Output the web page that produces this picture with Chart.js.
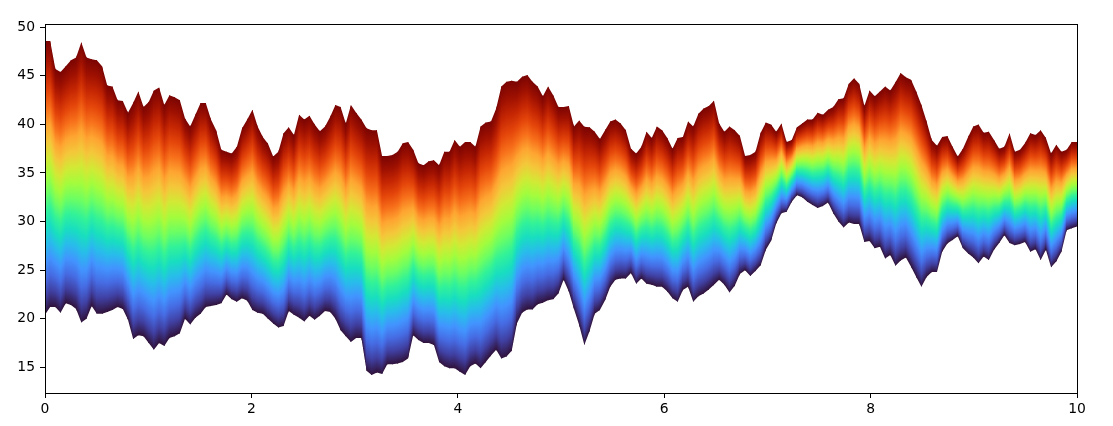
<!DOCTYPE html>
<html>
<head>
<meta charset="utf-8">
<script src="https://cdn.jsdelivr.net/npm/chart.js@4/dist/chart.umd.min.js"></script>
<style>
  html, body { margin: 0; padding: 0; background: #fff; }
  #wrap { width: 1113px; height: 426px; }
</style>
</head>
<body>
<div id="wrap"><canvas id="chartBand" width="1113" height="426"></canvas></div>
<script>
/* =========================
  Data (200 samples, x from 0 to 10)
========================= */
const upper = [
  48.6, 48.6, 45.7, 45.4, 46.0, 46.6, 46.9, 48.45, 46.9, 46.7,
  46.6, 46.0, 44.0, 43.9, 42.5, 42.4, 41.2, 42.2, 43.4, 41.8,
  42.3, 43.5, 43.8, 42.0, 43.0, 42.8, 42.5, 40.6, 39.8, 41.0,
  42.2, 42.2, 40.5, 39.4, 37.4, 37.2, 37.0, 37.7, 39.6, 40.5,
  41.5, 39.8, 38.7, 38.0, 36.7, 37.2, 39.1, 39.7, 38.9, 41.0,
  40.5, 40.9, 40.0, 39.3, 39.8, 40.8, 42.0, 41.8, 40.1, 42.0,
  41.2, 40.5, 39.6, 39.4, 39.4, 36.75, 36.75, 36.85, 37.2, 38.05,
  38.2, 37.4, 36.0, 35.8, 36.2, 36.3, 35.8, 37.2, 37.2, 38.4,
  37.7, 38.2, 38.2, 37.7, 39.8, 40.2, 40.3, 41.65, 43.9, 44.4,
  44.5, 44.4, 44.9, 45.1, 44.4, 43.9, 42.9, 43.9, 43.0, 41.8,
  41.8, 41.9, 39.8, 40.4, 39.75, 39.7, 39.25, 38.5, 39.4, 40.3,
  40.5, 40.1, 39.4, 37.5, 37.0, 37.7, 39.25, 38.6, 39.8, 39.4,
  38.6, 37.5, 38.6, 38.7, 40.3, 39.8, 41.1, 41.65, 41.9, 42.45,
  40.1, 39.25, 39.8, 39.4, 38.8, 36.75, 36.85, 37.2, 39.15, 40.2,
  40.0, 39.25, 40.1, 38.2, 38.4, 39.7, 40.1, 40.5, 40.5, 41.2,
  41.0, 41.5, 41.8, 42.6, 42.7, 44.2, 44.75, 44.2, 41.9, 43.5,
  42.9, 43.4, 43.9, 43.5, 44.35, 45.3, 44.85, 44.6, 43.4, 42.0,
  40.3, 38.4, 37.8, 38.7, 38.8, 37.7, 36.7, 37.5, 38.7, 39.8,
  40.0, 39.15, 39.25, 38.4, 37.5, 37.7, 39.1, 37.2, 37.4, 38.1,
  39.1, 38.9, 39.4, 38.6, 37.0, 37.9, 37.2, 37.4, 38.2, 38.2
];

const lower = [
  20.4, 21.2, 21.2, 20.6, 21.6, 21.4, 21.0, 19.6, 20.0, 21.3,
  20.5, 20.5, 20.7, 20.9, 21.2, 21.0, 19.9, 17.9, 18.3, 18.2,
  17.5, 16.8, 17.5, 17.2, 18.0, 18.2, 18.5, 20.0, 19.4, 20.1,
  20.5, 21.2, 21.3, 21.4, 21.6, 22.5, 22.0, 21.75, 22.1, 21.85,
  20.9, 20.6, 20.5, 20.0, 19.5, 19.1, 19.25, 20.8, 20.4, 20.1,
  19.7, 20.3, 19.9, 20.3, 20.8, 20.7, 20.0, 18.8, 18.2, 17.6,
  18.0, 18.0, 14.65, 14.2, 14.45, 14.3, 15.3, 15.3, 15.4, 15.55,
  15.9, 18.3, 17.8, 17.5, 17.5, 17.3, 15.55, 15.1, 14.9, 14.9,
  14.55, 14.2, 15.1, 15.4, 14.9, 15.55, 16.2, 16.8, 15.9, 16.1,
  16.7, 19.5, 20.6, 20.95, 20.95, 21.5, 21.65, 21.9, 22.0, 22.6,
  24.0, 22.8, 21.0, 19.35, 17.3, 18.7, 20.5, 20.9, 21.9, 23.3,
  24.0, 24.15, 24.15, 24.7, 23.6, 24.15, 23.6, 23.5, 23.3, 23.3,
  22.8, 22.1, 21.75, 22.95, 23.3, 21.75, 22.3, 22.6, 23.0, 23.5,
  24.0, 23.5, 22.7, 23.4, 24.6, 25.0, 24.4, 24.9, 25.5, 27.1,
  28.0, 29.8, 30.85, 31.0, 32.05, 32.7, 32.5, 32.05, 31.7, 31.4,
  31.6, 31.95, 30.85, 30.0, 29.4, 29.9, 29.75, 29.75, 27.9, 28.0,
  27.25, 27.4, 26.2, 26.55, 25.45, 26.0, 26.3, 25.35, 24.3, 23.3,
  24.3, 24.8, 24.8, 26.9, 27.75, 28.1, 28.5, 27.25, 26.7, 26.3,
  25.7, 26.4, 26.05, 27.1, 27.8, 28.6, 27.8, 27.55, 27.7, 27.9,
  26.9, 27.15, 26.05, 27.1, 25.3, 25.9, 26.9, 29.1, 29.3, 29.5
];

const xValues = upper.map((_, i) => i * 10 / (upper.length - 1));
const xTicks = [0, 2, 4, 6, 8, 10];
const yTicks = [15, 20, 25, 30, 35, 40, 45, 50];

// matplotlib "turbo" sampled every 16 steps
const turbo = [
  "rgb(48,18,59)", "rgb(64,64,162)", "rgb(70,107,227)", "rgb(66,148,255)",
  "rgb(40,188,235)", "rgb(24,222,192)", "rgb(50,242,152)", "rgb(109,254,98)",
  "rgb(164,252,60)", "rgb(210,233,53)", "rgb(244,199,58)", "rgb(254,164,49)",
  "rgb(247,111,26)", "rgb(228,69,10)", "rgb(197,38,3)", "rgb(158,16,1)",
  "rgb(122,4,3)"
];

/* =========================
  Plugins
========================= */
const turboFill = {
  id: "turboFill",
  beforeDatasetsDraw(chart) {
    const up = chart.getDatasetMeta(0).data;
    const lo = chart.getDatasetMeta(1).data;
    const { ctx, chartArea } = chart;

    ctx.save();
    ctx.beginPath();
    ctx.rect(chartArea.left, chartArea.top, chartArea.right - chartArea.left, chartArea.bottom - chartArea.top);
    ctx.clip();

    ctx.beginPath();
    up.forEach((p, i) => (i ? ctx.lineTo(p.x, p.y) : ctx.moveTo(p.x, p.y)));
    for (let i = lo.length - 1; i >= 0; i--) ctx.lineTo(lo[i].x, lo[i].y);
    ctx.closePath();
    ctx.clip();

    for (let i = 0; i < up.length - 1; i++) {
      const x0 = up[i].x, x1 = up[i + 1].x;
      for (let px = Math.floor(x0); px < x1; px++) {
        const t = Math.min(1, Math.max(0, (px + 0.5 - x0) / (x1 - x0)));
        const yt = up[i].y + t * (up[i + 1].y - up[i].y);
        const yb = lo[i].y + t * (lo[i + 1].y - lo[i].y);
        const g = ctx.createLinearGradient(0, yb, 0, yt);
        turbo.forEach((c, k) => g.addColorStop(k / (turbo.length - 1), c));
        ctx.fillStyle = g;
        ctx.fillRect(px, yt - 2, 1, yb - yt + 4);
      }
    }
    ctx.restore();
  }
};

// axes box like matplotlib spines
const frame = {
  id: "frame",
  afterDraw(chart) {
    const { ctx, chartArea } = chart;
    ctx.save();
    ctx.strokeStyle = "#000";
    ctx.lineWidth = 1;
    ctx.strokeRect(chartArea.left + 0.5, chartArea.top + 0.5,
      chartArea.right - chartArea.left, chartArea.bottom - chartArea.top);
    ctx.restore();
  }
};

/* =========================
  Chart
========================= */
const font = { family: "DejaVu Sans", size: 13.9 };

new Chart(document.getElementById("chartBand"), {
  type: "line",
  data: {
    datasets: [
      {
        label: "upper",
        data: xValues.map((x, i) => ({ x, y: upper[i] })),
        borderColor: "rgba(0,0,0,0)",
        borderWidth: 0,
        pointRadius: 0,
        fill: false
      },
      {
        label: "lower",
        data: xValues.map((x, i) => ({ x, y: lower[i] })),
        borderColor: "rgba(0,0,0,0)",
        borderWidth: 0,
        pointRadius: 0,
        fill: false
      }
    ]
  },
  options: {
    responsive: false,
    animation: false,
    devicePixelRatio: 1,
    layout: { padding: { top: 24, right: 36, left: 0, bottom: 0 } },
    plugins: {
      legend: { display: false },
      tooltip: { enabled: false }
    },
    scales: {
      x: {
        type: "linear",
        min: 0,
        max: 10,
        afterBuildTicks: s => { s.ticks = xTicks.map(v => ({ value: v })); },
        afterFit: s => { s.height = 33; },
        ticks: { color: "#000", font, padding: 3, maxRotation: 0 },
        grid: { drawOnChartArea: false, drawTicks: true, tickLength: 5, color: "#000" },
        border: { display: false }
      },
      y: {
        type: "linear",
        min: 12.35,
        max: 50.34,
        afterBuildTicks: s => { s.ticks = yTicks.map(v => ({ value: v })); },
        afterFit: s => { s.width = 45; },
        ticks: { color: "#000", font, padding: 5 },
        grid: { drawOnChartArea: false, drawTicks: true, tickLength: 5, color: "#000" },
        border: { display: false }
      }
    }
  },
  plugins: [turboFill, frame]
});
</script>
</body>
</html>
